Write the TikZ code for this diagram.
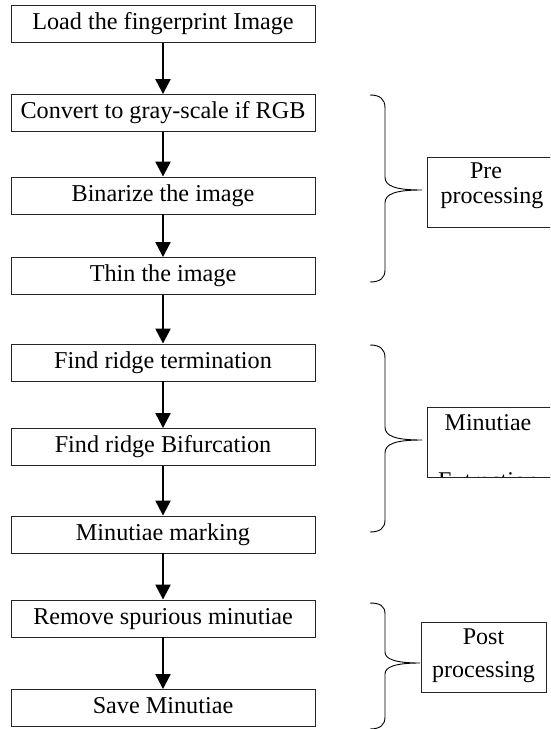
\documentclass[tikz,border=0pt]{standalone}
\usepackage{fontspec}
\setmainfont{Liberation Serif}
\usetikzlibrary{arrows.meta}
\begin{document}
\begin{tikzpicture}[x=1pt,y=-1pt,
  stepbox/.style={draw=black!85, line width=0.9pt, minimum width=304pt, minimum height=37pt,
    inner sep=0pt, text height=16.5pt, text depth=5pt, font=\fontsize{24.2}{28}\selectfont},
  flow/.style={line width=2.3pt, -{Triangle[width=15pt,length=15pt]}},
  brace/.style={line width=0.9pt},
  sidebox/.style={draw=black!85, line width=0.9pt, inner sep=0pt, minimum height=70pt},
  lbl/.style={anchor=base, inner sep=0pt, font=\fontsize{24}{28}\selectfont}]
\useasboundingbox (0,0) rectangle (550,729);
\clip (0,0) rectangle (550,729);

% main flow
\node[stepbox] (n1) at (163,24)    {Load the fingerprint Image};
\node[stepbox] (n2) at (163,113)   {Convert to gray-scale if RGB};
\node[stepbox] (n3) at (163,195.5) {Binarize the image};
\node[stepbox] (n4) at (163,276)   {Thin the image};
\node[stepbox] (n5) at (163,362.5) {Find ridge termination};
\node[stepbox] (n6) at (163,447)   {Find ridge Bifurcation};
\node[stepbox] (n7) at (163,534.5) {Minutiae marking};
\node[stepbox] (n8) at (163,618.5) {Remove spurious minutiae};
\node[stepbox] (n9) at (163,708)   {Save Minutiae};

\draw[flow] (n1.south) -- (n2.north);
\draw[flow] (n2.south) -- (n3.north);
\draw[flow] (n3.south) -- (n4.north);
\draw[flow] (n4.south) -- (n5.north);
\draw[flow] (n5.south) -- (n6.north);
\draw[flow] (n6.south) -- (n7.north);
\draw[flow] (n7.south) -- (n8.north);
\draw[flow] (n8.south) -- (n9.north);

% braces
\draw[brace] (370,95) .. controls (380,95) and (385,99) .. (385,108) -- (385,177)
  .. controls (385,186) and (395,190) .. (422,190)
  .. controls (395,190) and (385,194) .. (385,203) -- (385,270)
  .. controls (385,278) and (380,282) .. (370,282);
\draw[brace] (370,345) .. controls (380,345) and (385,349) .. (385,358) -- (385,427)
  .. controls (385,436) and (395,440) .. (422,440)
  .. controls (395,440) and (385,444) .. (385,453) -- (385,520)
  .. controls (385,528) and (380,532) .. (370,532);
\draw[brace] (370,603) .. controls (380,603) and (385,606) .. (385,614) -- (385,652)
  .. controls (385,659) and (395,663) .. (420,663)
  .. controls (395,663) and (385,667) .. (385,674) -- (385,717)
  .. controls (385,725) and (380,729) .. (370,729);

% side boxes
\node[sidebox, minimum width=130pt] (pre) at (492,192) {};
\node[lbl] (pre1) at (486,178) {Pre};
\node[lbl] (pre2) at (492,203) {processing};

\node[sidebox, minimum width=130pt] (mex) at (492,442) {};
\node[lbl] (mex1) at (488,430) {Minutiae};
\begin{scope}
  \clip (427,407) rectangle (560,476.5);
  \node[lbl] (mex2) at (488,488) {Extraction};
\end{scope}

\node[sidebox, minimum width=125pt] (post) at (483.5,657) {};
\node[lbl] (post1) at (483.5,644) {Post};
\node[lbl] (post2) at (483.5,677) {processing};
\end{tikzpicture}
\end{document}
